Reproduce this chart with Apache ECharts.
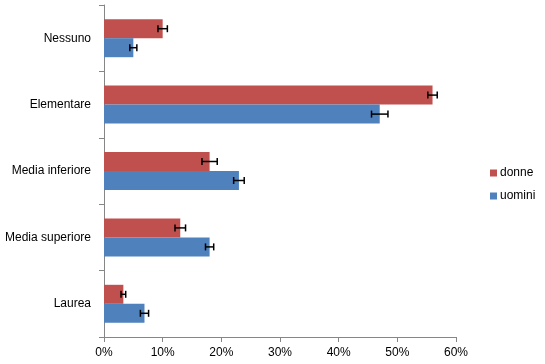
<!DOCTYPE html>
<html><head><meta charset="utf-8">
<script src="https://cdn.jsdelivr.net/npm/echarts@6/dist/echarts.min.js"></script>
<style>html,body{margin:0;padding:0;background:#fff}#c{width:545px;height:364px}</style>
</head><body><div id="c"></div>
<script>
// bottom-to-top order
var categories = ['Laurea', 'Media superiore', 'Media inferiore', 'Elementare', 'Nessuno'];
var donne = [3.3, 13, 18, 56, 10];
var donneErr = [0.4, 0.9, 1.3, 0.8, 0.8];
var uomini = [6.9, 18, 23, 47, 5];
var uominiErr = [0.7, 0.7, 0.9, 1.4, 0.6];

var barW = 19;
function errSeries(vals, errs, sign) {
  return {
    type: 'custom', z: 10, silent: true,
    data: vals.map(function (v, i) { return [v - errs[i], v + errs[i], i]; }),
    encode: { x: [0, 1], y: 2 },
    renderItem: function (params, api) {
      var lo = api.coord([api.value(0), api.value(2)]);
      var hi = api.coord([api.value(1), api.value(2)]);
      var y = lo[1] + sign * barW / 2;
      var cap = 3.5;
      var st = { stroke: '#000', lineWidth: 1.5 };
      return { type: 'group', children: [
        { type: 'line', shape: { x1: lo[0], y1: y, x2: hi[0], y2: y }, style: st },
        { type: 'line', shape: { x1: lo[0], y1: y - cap, x2: lo[0], y2: y + cap }, style: st },
        { type: 'line', shape: { x1: hi[0], y1: y - cap, x2: hi[0], y2: y + cap }, style: st }
      ]};
    }
  };
}

var chart = echarts.init(document.getElementById('c'));
var font = 'Liberation Sans';
chart.setOption({
  animation: false,
  textStyle: { fontFamily: font },
  grid: { left: 104, right: 89, top: 5, bottom: 27, containLabel: false },
  legend: {
    orient: 'vertical', left: 485, top: 162, itemWidth: 7, itemHeight: 7, itemGap: 11,
    data: [{ name: 'donne', icon: 'rect' }, { name: 'uomini', icon: 'rect' }],
    textStyle: { fontFamily: font, fontSize: 12, color: '#000', padding: [0, 0, 0, -2] }
  },
  xAxis: {
    type: 'value', min: 0, max: 60, interval: 10,
    axisLine: { show: true, lineStyle: { color: '#868686' } },
    axisTick: { show: true, length: 5, lineStyle: { color: '#868686' } },
    splitLine: { show: false },
    axisLabel: { margin: 10, fontSize: 12, color: '#000', fontFamily: font,
      formatter: function (v) { return v + '%'; } }
  },
  yAxis: {
    type: 'category', data: categories,
    axisLine: { show: true, lineStyle: { color: '#868686' } },
    axisTick: { show: true, length: 5, lineStyle: { color: '#868686' } },
    axisLabel: { margin: 13, fontSize: 12, color: '#000', fontFamily: font }
  },
  series: [
    { name: 'donne', type: 'bar', data: donne, barGap: '0%', barWidth: barW,
      itemStyle: { color: '#C0504D' } },
    { name: 'uomini', type: 'bar', data: uomini, barGap: '0%', barWidth: barW,
      itemStyle: { color: '#4F81BD' } },
    errSeries(donne, donneErr, -1),
    errSeries(uomini, uominiErr, 1)
  ]
});
</script></body></html>
